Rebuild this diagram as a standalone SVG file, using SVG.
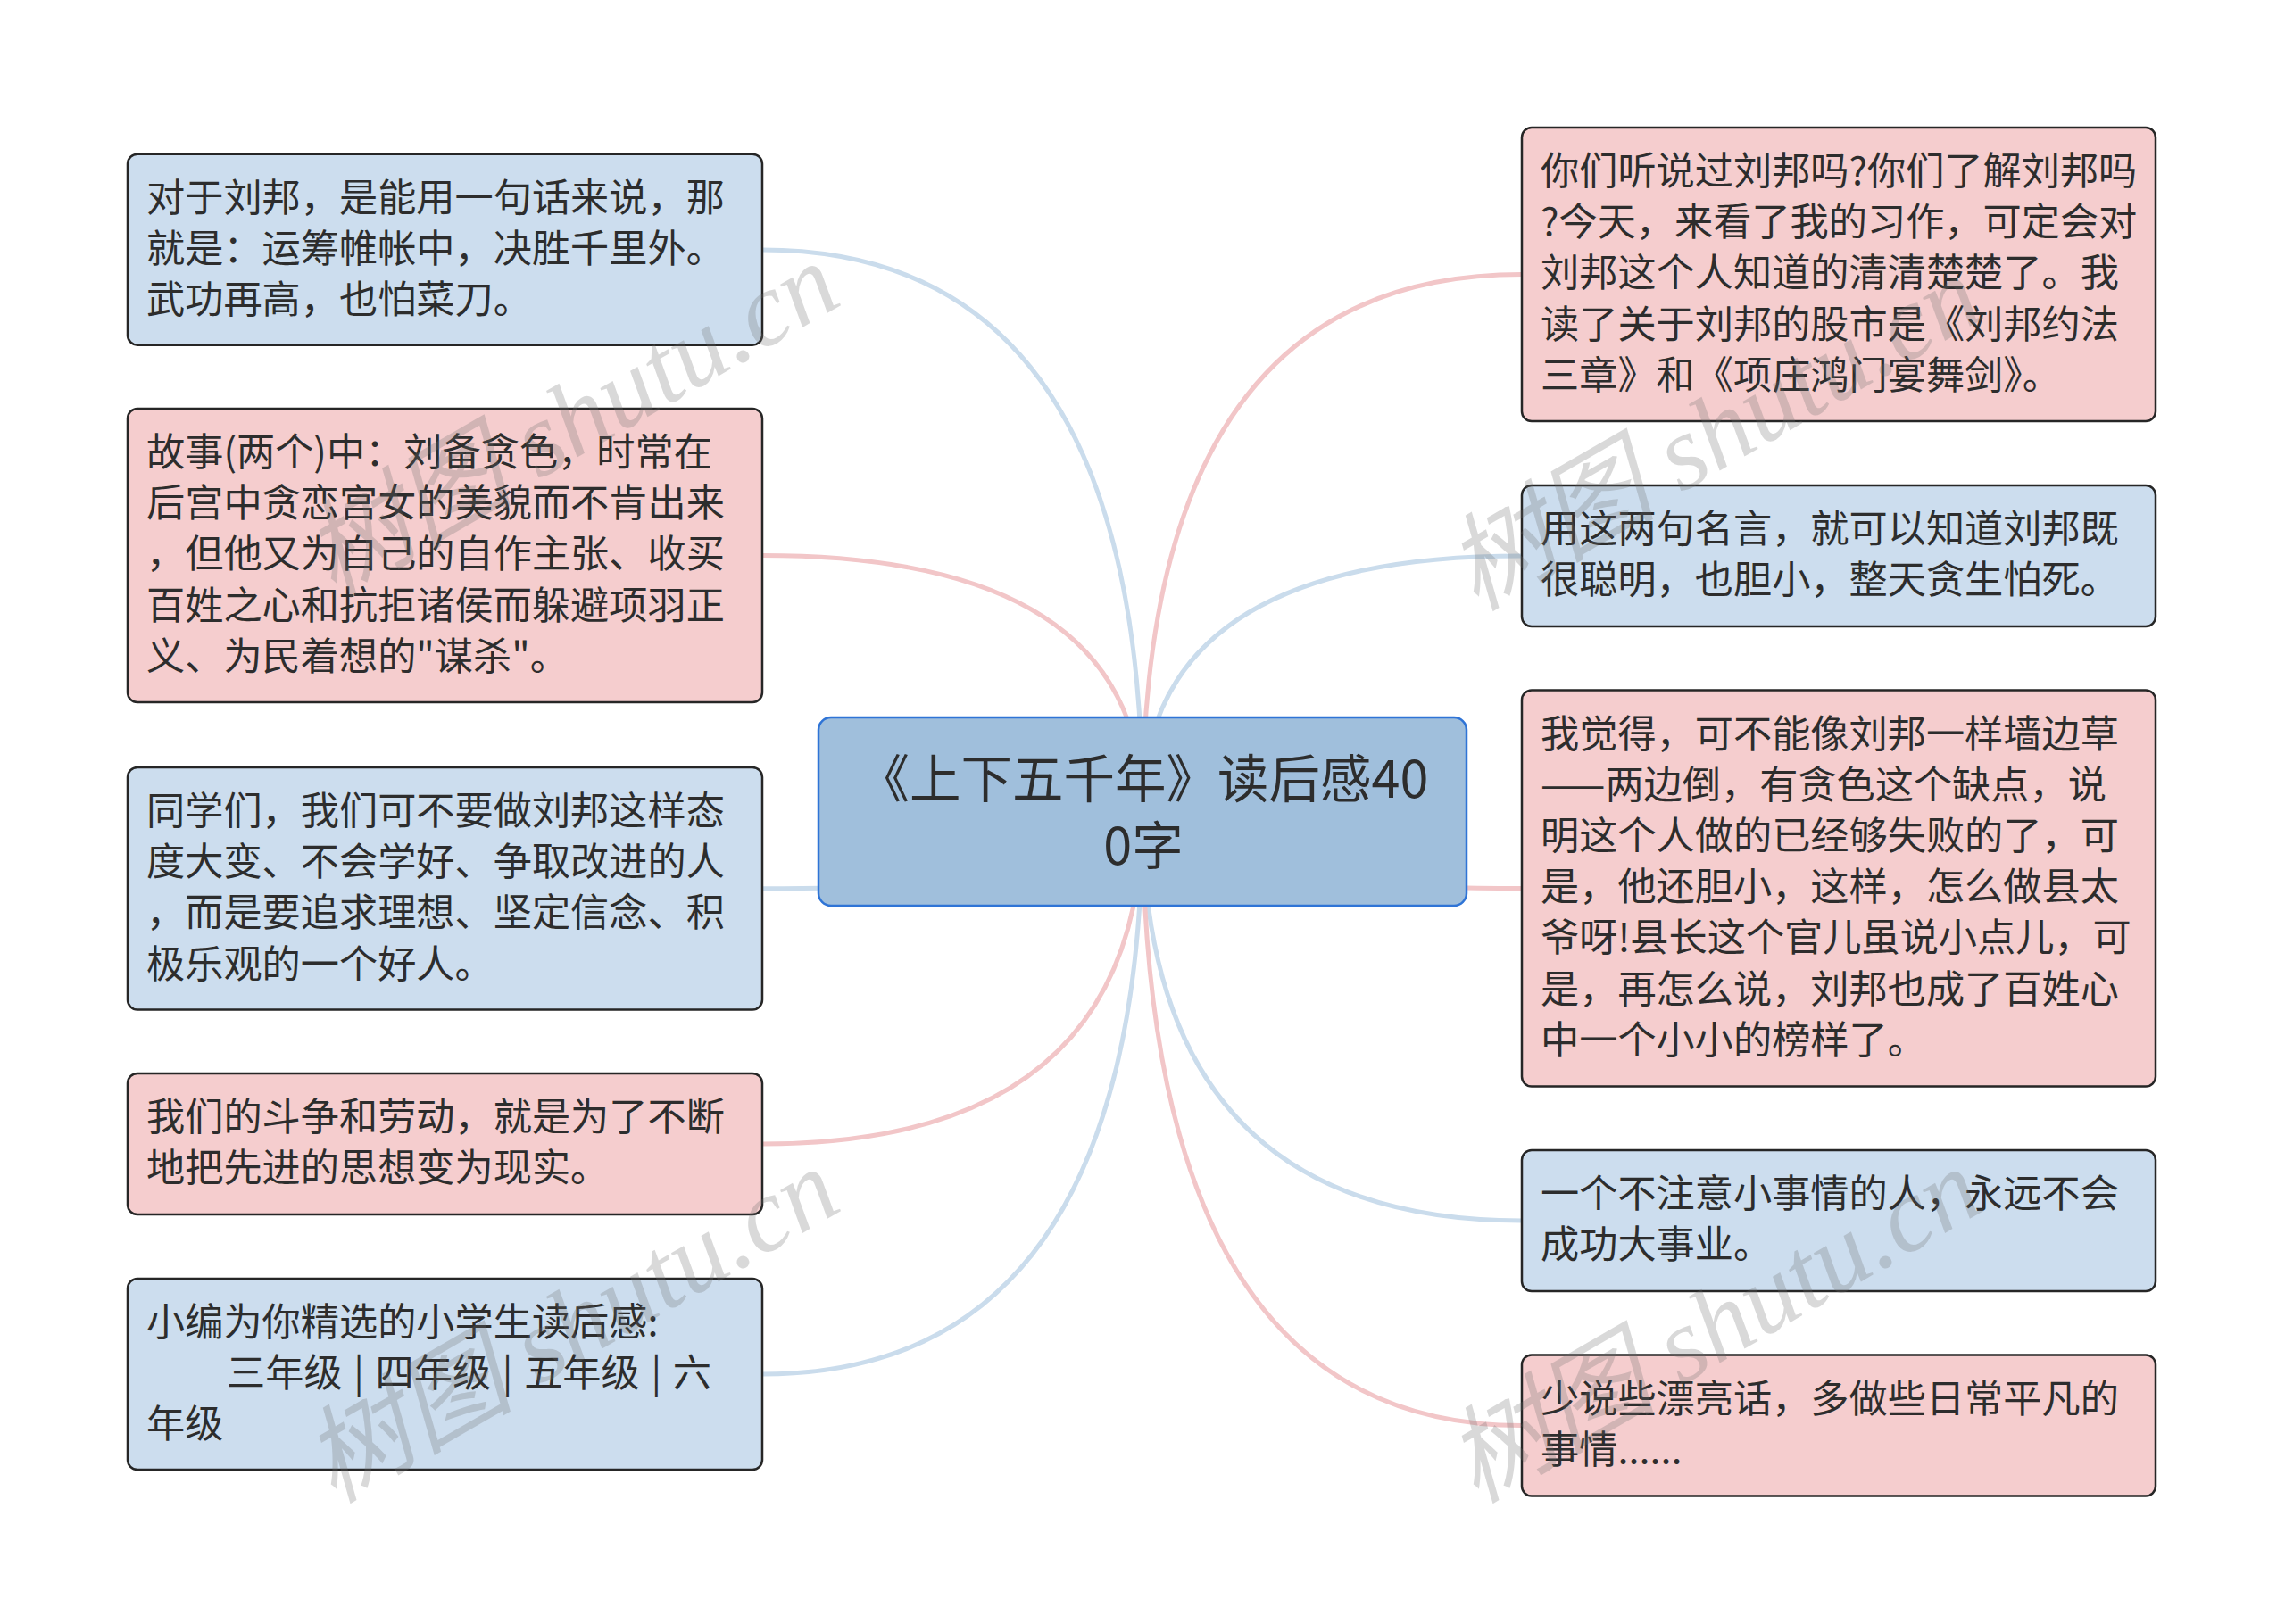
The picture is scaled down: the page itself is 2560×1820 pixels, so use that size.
<svg xmlns="http://www.w3.org/2000/svg" width="2560" height="1820" viewBox="0 0 2560 1820">
<style>
.box{stroke:#262626;stroke-width:2.5}
.blue{fill:#ccddee}
.pink{fill:#f5cdce}
.t{font-family:"Noto Sans CJK SC","Noto Sans",sans-serif;font-size:43.2px;fill:#2d2d2d}
.ct{font-family:"Noto Sans CJK SC","Noto Sans",sans-serif;font-size:57.5px;fill:#2d2d2d;text-anchor:middle}
.lb{fill:none;stroke:#cadcec;stroke-width:5}
.lp{fill:none;stroke:#f2c6c8;stroke-width:5}
.wm{font-family:"Liberation Serif","Noto Sans CJK SC",serif;font-size:118px;fill:#6e6e6e;fill-opacity:0.26;font-style:italic}
</style>
<rect width="2560" height="1820" fill="#ffffff"/>
<g id="connectors">
<path class="lb" d="M1280 909 Q1280 280 854 280"/>
<path class="lp" d="M1280 909 Q1280 622.5 854 622.5"/>
<path class="lb" d="M1280 909 Q1280 995.7 854 995.7"/>
<path class="lp" d="M1280 909 Q1280 1282 854 1282"/>
<path class="lb" d="M1280 909 Q1280 1540 854 1540"/>
<path class="lp" d="M1280 909 Q1280 307.5 1705 307.5"/>
<path class="lb" d="M1280 909 Q1280 623 1705 623"/>
<path class="lp" d="M1280 909 Q1280 995.5 1705 995.5"/>
<path class="lb" d="M1280 909 Q1280 1368 1705 1368"/>
<path class="lp" d="M1280 909 Q1280 1597.5 1705 1597.5"/>
</g>
<g id="root">
<rect x="917" y="804" width="726" height="211" rx="14" fill="#a0bfdc" stroke="#2f74d6" stroke-width="2.5"/>
<text class="ct"><tspan x="1281" y="894">《上下五千年》读后感40</tspan><tspan x="1281" y="969">0字</tspan></text>
</g>
<g id="left1">
<rect class="box blue" x="143" y="172.7" width="711" height="214" rx="11"/>
<text class="t" x="164" y="236.7">对于刘邦，是能用一句话来说，那</text>
<text class="t" x="164" y="293.9">就是：运筹帷帐中，决胜千里外。</text>
<text class="t" x="164" y="351.1">武功再高，也怕菜刀。</text>
</g>
<g id="left2">
<rect class="box pink" x="143" y="458" width="711" height="329" rx="11"/>
<text class="t" x="164" y="522">故事(两个)中：刘备贪色，时常在</text>
<text class="t" x="164" y="579.2">后宫中贪恋宫女的美貌而不肯出来</text>
<text class="t" x="164" y="636.4">，但他又为自己的自作主张、收买</text>
<text class="t" x="164" y="693.6">百姓之心和抗拒诸侯而躲避项羽正</text>
<text class="t" x="164" y="750.8">义、为民着想的"谋杀"。</text>
</g>
<g id="left3">
<rect class="box blue" x="143" y="860" width="711" height="271.5" rx="11"/>
<text class="t" x="164" y="924">同学们，我们可不要做刘邦这样态</text>
<text class="t" x="164" y="981.2">度大变、不会学好、争取改进的人</text>
<text class="t" x="164" y="1038.4">，而是要追求理想、坚定信念、积</text>
<text class="t" x="164" y="1095.6">极乐观的一个好人。</text>
</g>
<g id="left4">
<rect class="box pink" x="143" y="1203" width="711" height="158" rx="11"/>
<text class="t" x="164" y="1267">我们的斗争和劳动，就是为了不断</text>
<text class="t" x="164" y="1324.2">地把先进的思想变为现实。</text>
</g>
<g id="left5">
<rect class="box blue" x="143" y="1433" width="711" height="214" rx="11"/>
<text class="t" x="164" y="1497">小编为你精选的小学生读后感:</text>
<text class="t" x="254" y="1554.2" word-spacing="3">三年级 | 四年级 | 五年级 | 六</text>
<text class="t" x="164" y="1611.4">年级</text>
</g>
<g id="right1">
<rect class="box pink" x="1705" y="143" width="710" height="329" rx="11"/>
<text class="t" x="1726" y="207">你们听说过刘邦吗?你们了解刘邦吗</text>
<text class="t" x="1726" y="264.2">?今天，来看了我的习作，可定会对</text>
<text class="t" x="1726" y="321.4">刘邦这个人知道的清清楚楚了。我</text>
<text class="t" x="1726" y="378.6">读了关于刘邦的股市是《刘邦约法</text>
<text class="t" x="1726" y="435.8">三章》和《项庄鸿门宴舞剑》。</text>
</g>
<g id="right2">
<rect class="box blue" x="1705" y="544" width="710" height="158" rx="11"/>
<text class="t" x="1726" y="608">用这两句名言，就可以知道刘邦既</text>
<text class="t" x="1726" y="665.2">很聪明，也胆小，整天贪生怕死。</text>
</g>
<g id="right3">
<rect class="box pink" x="1705" y="773.5" width="710" height="444" rx="11"/>
<text class="t" x="1726" y="837.5">我觉得，可不能像刘邦一样墙边草</text>
<text class="t" x="1726" y="894.7">——两边倒，有贪色这个缺点，说</text>
<text class="t" x="1726" y="951.9">明这个人做的已经够失败的了，可</text>
<text class="t" x="1726" y="1009.1">是，他还胆小，这样，怎么做县太</text>
<text class="t" x="1726" y="1066.3">爷呀!县长这个官儿虽说小点儿，可</text>
<text class="t" x="1726" y="1123.5">是，再怎么说，刘邦也成了百姓心</text>
<text class="t" x="1726" y="1180.7">中一个小小的榜样了。</text>
</g>
<g id="right4">
<rect class="box blue" x="1705" y="1289" width="710" height="158" rx="11"/>
<text class="t" x="1726" y="1353">一个不注意小事情的人，永远不会</text>
<text class="t" x="1726" y="1410.2">成功大事业。</text>
</g>
<g id="right5">
<rect class="box pink" x="1705" y="1518.5" width="710" height="158" rx="11"/>
<text class="t" x="1726" y="1582.5">少说些漂亮话，多做些日常平凡的</text>
<text class="t" x="1726" y="1639.7">事情......</text>
</g>
<g id="watermarks">
<text class="wm" transform="translate(660 505) rotate(-30)" text-anchor="middle">树图 shutu.cn</text>
<text class="wm" transform="translate(1940 520) rotate(-30)" text-anchor="middle">树图 shutu.cn</text>
<text class="wm" transform="translate(660 1520) rotate(-30)" text-anchor="middle">树图 shutu.cn</text>
<text class="wm" transform="translate(1940 1520) rotate(-30)" text-anchor="middle">树图 shutu.cn</text>
</g>
</svg>
